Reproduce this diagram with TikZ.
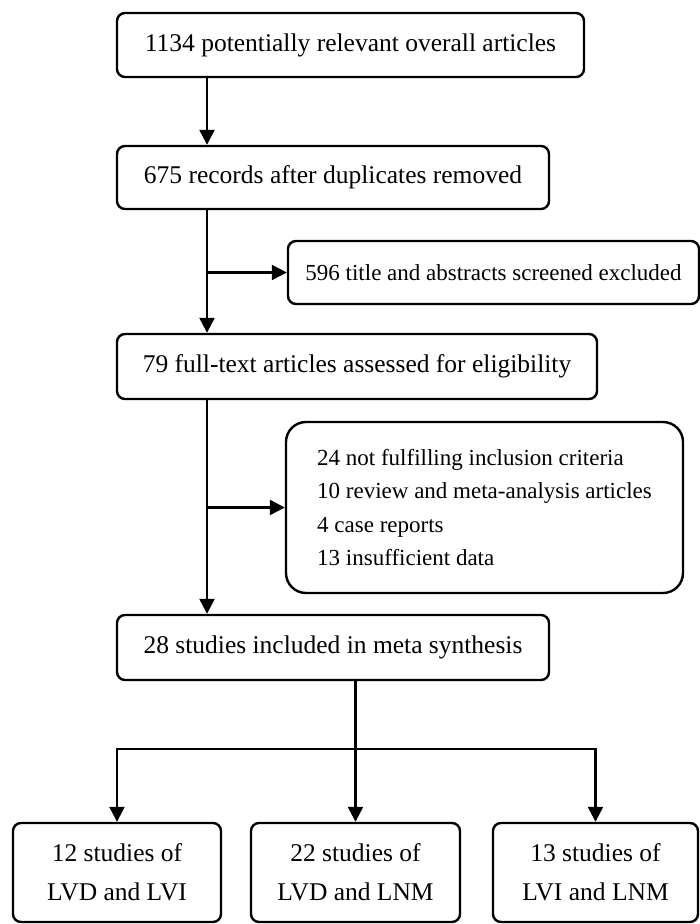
\documentclass[tikz,border=0pt]{standalone}
\usepackage{fontspec}
\setmainfont{Liberation Serif}
\usetikzlibrary{arrows.meta}

\begin{document}
\begin{tikzpicture}[x=1pt,y=-1pt,
	every node/.style={font=\fontsize{25.5}{33.3}\selectfont},
	box/.style={draw, line width=2.4pt, rounded corners=8pt, inner sep=0pt, align=center},
	smallbox/.style={box, font=\fontsize{23}{33.3}\selectfont},
	exbox/.style={smallbox, rounded corners=20pt, align=left},
	endbox/.style={box, font=\fontsize{25.5}{39}\selectfont},
	arr/.style={-{Triangle[width=15pt,length=15pt]}, line width=2.4pt}]
		
		\useasboundingbox (0,0) rectangle (700,924);
		
		\node[box, minimum width=467pt, minimum height=64pt] (A) at (350.5,45) {1134 potentially relevant overall articles};
		\node[box, minimum width=432pt, minimum height=63pt] (B) at (333,177.5) {675 records after duplicates removed};
		\node[box, minimum width=480pt, minimum height=65pt] (C) at (357,366.5) {79 full-text articles assessed for eligibility};
		\node[box, minimum width=432pt, minimum height=65pt] (D) at (333,647.5) {28 studies included in meta synthesis};
		
		\node[smallbox, minimum width=411pt, minimum height=63pt] (b) at (493.5,272.5) {596 title and abstracts screened excluded};
		\node[exbox, minimum width=397pt, minimum height=171pt] (c) at (484.5,507.5) {24 not fulfilling inclusion criteria\\10 review and meta-analysis articles\\4 case reports\\13 insufficient data};
		
		\node[endbox, minimum width=208pt, minimum height=99pt] (E) at (117,872.5) {12 studies of\\LVD and LVI};
		\node[endbox, minimum width=209pt, minimum height=99pt] (E') at (355.5,872.5) {22 studies of\\LVD and LNM};
		\node[endbox, minimum width=205pt, minimum height=99pt] (E'') at (595.5,872.5) {13 studies of\\LVI and LNM};
		
		\coordinate (t) at (207,0);
		\coordinate (j) at (355.5,749);
		
		\draw[arr] (A.south -| t) -- (B.north -| t);
		\draw[arr] (B.south -| t) -- (C.north -| t);
		\draw[arr] (t |- b.west) -- (b.west);
		\draw[arr] (C.south -| t) -- (D.north -| t);
		\draw[arr] (t |- c.west) -- (c.west);
		
		\draw[arr] (D.south -| E') -- (E'.north);
		\draw[arr] (j) -| (E.north);
		\draw[arr] (j) -| (E''.north);
	\end{tikzpicture}
\end{document}
